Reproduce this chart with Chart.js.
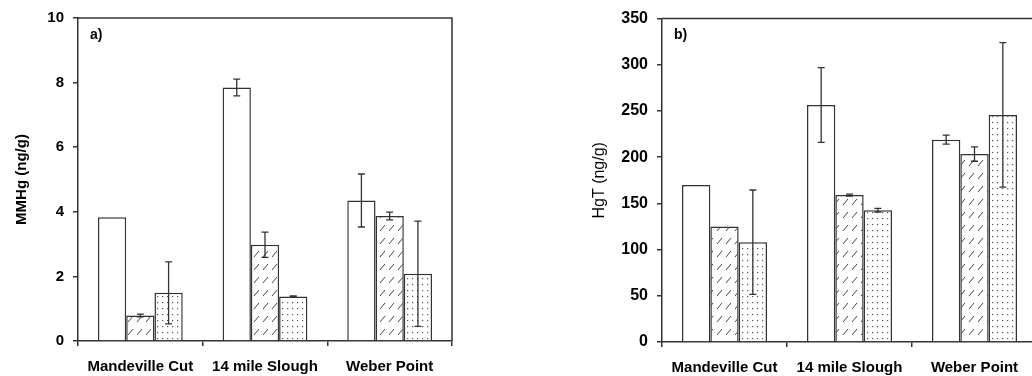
<!DOCTYPE html>
<html>
<head>
<meta charset="utf-8">
<script src="https://cdn.jsdelivr.net/npm/chart.js@4.4.1/dist/chart.umd.min.js"></script>
<style>
  html, body { margin: 0; padding: 0; background: #fff; }
  #wrap { position: relative; width: 1032px; height: 376px; overflow: hidden; }
  canvas { position: absolute; top: 0; }
  #chartA { left: 0; }
  #chartB { left: 580px; }
</style>
</head>
<body>
<div id="wrap">
  <canvas id="chartA" width="460" height="376"></canvas>
  <canvas id="chartB" width="465" height="376"></canvas>
</div>
<script>
// sites along the x axis
const categories = ['Mandeville Cut', '14 mile Slough', 'Weber Point'];

// a) MMHg (ng/g)
const mmhgOpen = [3.83, 7.85, 4.35];
const mmhgHatch = [0.79, 2.98, 3.87];
const mmhgDot = [1.49, 1.38, 2.08];
const mmhgOpenErr = [0, 0.26, 0.82];
const mmhgHatchErr = [0.04, 0.39, 0.12];
const mmhgDotErr = [0.96, 0.02, 1.63];
const mmhgTicks = [0, 2, 4, 6, 8, 10];

// b) HgT (ng/g)
const hgtOpen = [170, 256.5, 219];
const hgtHatch = [125, 159, 203.4];
const hgtDot = [108, 142.7, 245.8];
const hgtOpenErr = [0, 40.5, 4.8];
const hgtHatchErr = [0, 1, 7.8];
const hgtDotErr = [56.5, 2, 78.2];
const hgtTicks = [0, 50, 100, 150, 200, 250, 300, 350];

const INK = '#333';
const FONT = "'Liberation Sans', Arial, sans-serif";

/* fill patterns */
function makeHatch() {
  const c = document.createElement('canvas');
  c.width = 9; c.height = 13;
  const g = c.getContext('2d');
  g.fillStyle = '#fff';
  g.fillRect(0, 0, 9, 13);
  g.strokeStyle = '#444';
  g.lineWidth = 1;
  g.beginPath();
  g.moveTo(2, 10);
  g.lineTo(7, 4);
  g.stroke();
  return g.createPattern(c, 'repeat');
}

function makeDots() {
  const c = document.createElement('canvas');
  c.width = 5; c.height = 6;
  const g = c.getContext('2d');
  g.fillStyle = '#fff';
  g.fillRect(0, 0, 5, 6);
  g.fillStyle = '#555';
  g.fillRect(2, 2, 1.2, 1.2);
  return g.createPattern(c, 'repeat');
}

/* error bars drawn from each dataset's errors array */
const errorBars = {
  id: 'errorBars',
  afterDatasetsDraw(chart) {
    const { ctx, scales: { y } } = chart;
    ctx.save();
    ctx.strokeStyle = INK;
    ctx.lineWidth = 1.3;
    chart.data.datasets.forEach((ds, i) => {
      const meta = chart.getDatasetMeta(i);
      meta.data.forEach((bar, j) => {
        const e = ds.errors ? ds.errors[j] : 0;
        if (!e) return;
        const v = ds.data[j];
        const hi = y.getPixelForValue(v + e);
        const lo = y.getPixelForValue(v - e);
        const x = bar.x;
        ctx.beginPath();
        ctx.moveTo(x, hi); ctx.lineTo(x, lo);
        ctx.moveTo(x - 3.5, hi); ctx.lineTo(x + 3.5, hi);
        ctx.moveTo(x - 3.5, lo); ctx.lineTo(x + 3.5, lo);
        ctx.stroke();
      });
    });
    ctx.restore();
  }
};

/* box top/right edges + panel letter */
const frame = {
  id: 'frame',
  afterDraw(chart, args, opts) {
    const { ctx, chartArea: a } = chart;
    ctx.save();
    ctx.strokeStyle = INK;
    ctx.lineWidth = 1.5;
    ctx.beginPath();
    ctx.moveTo(a.left, a.top);
    ctx.lineTo(a.right, a.top);
    ctx.lineTo(a.right, a.bottom);
    ctx.stroke();
    ctx.fillStyle = '#000';
    ctx.font = 'bold 14px ' + FONT;
    ctx.textBaseline = 'middle';
    ctx.fillText(opts.text, a.left + 12, 35);
    ctx.restore();
  }
};

function buildChart(id, cfg) {
  const hatch = makeHatch();
  const dots = makeDots();
  return new Chart(document.getElementById(id), {
    type: 'bar',
    data: {
      labels: categories,
      datasets: [
        { label: 'Series 1', data: cfg.open, errors: cfg.openErr, backgroundColor: '#fff' },
        { label: 'Series 2', data: cfg.hatch, errors: cfg.hatchErr, backgroundColor: hatch },
        { label: 'Series 3', data: cfg.dot, errors: cfg.dotErr, backgroundColor: dots },
      ].map(d => Object.assign(d, {
        borderColor: INK,
        borderWidth: 1.5,
        categoryPercentage: 0.68,
        barPercentage: 1.0,
      })),
    },
    options: {
      responsive: false,
      animation: false,
      layout: { padding: { top: 15, right: 8, left: 0, bottom: 0 } },
      plugins: {
        legend: { display: false },
        tooltip: { enabled: false },
        frame: { text: cfg.letter },
      },
      scales: {
        x: {
          afterFit: (s) => { s.height = cfg.xHeight; },
          grid: { drawOnChartArea: false, tickLength: 5, color: INK, lineWidth: 1.5 },
          border: { color: INK, width: 1.5 },
          ticks: { color: '#000', padding: 12, font: { family: FONT, size: 15, weight: 'bold' } },
        },
        y: {
          min: 0,
          max: cfg.ticks[cfg.ticks.length - 1],
          afterFit: (s) => { s.width = cfg.yWidth; },
          afterBuildTicks: (s) => { s.ticks = cfg.ticks.map(v => ({ value: v })); },
          grid: { drawOnChartArea: false, tickLength: 5, color: INK, lineWidth: 1.5 },
          border: { color: INK, width: 1.5 },
          ticks: { color: '#000', padding: 9, font: { family: FONT, size: cfg.tickSize, weight: 'bold' } },
          title: {
            display: true,
            text: cfg.title,
            color: '#000',
            padding: { top: cfg.titlePad, bottom: 0 },
            font: { family: FONT, size: cfg.titleSize, weight: cfg.titleWeight },
          },
        },
      },
    },
    plugins: [errorBars, frame],
  });
}

buildChart('chartA', {
  open: mmhgOpen, hatch: mmhgHatch, dot: mmhgDot,
  openErr: mmhgOpenErr, hatchErr: mmhgHatchErr, dotErr: mmhgDotErr,
  ticks: mmhgTicks, title: 'MMHg (ng/g)', letter: 'a)',
  yWidth: 78, xHeight: 35, tickSize: 15, titlePad: 13, titleSize: 15, titleWeight: 'bold',
});

buildChart('chartB', {
  open: hgtOpen, hatch: hgtHatch, dot: hgtDot,
  openErr: hgtOpenErr, hatchErr: hgtHatchErr, dotErr: hgtDotErr,
  ticks: hgtTicks, title: 'HgT (ng/g)', letter: 'b)',
  yWidth: 82, xHeight: 34, tickSize: 16, titlePad: 10, titleSize: 16, titleWeight: 'normal',
});
</script>
</body>
</html>
